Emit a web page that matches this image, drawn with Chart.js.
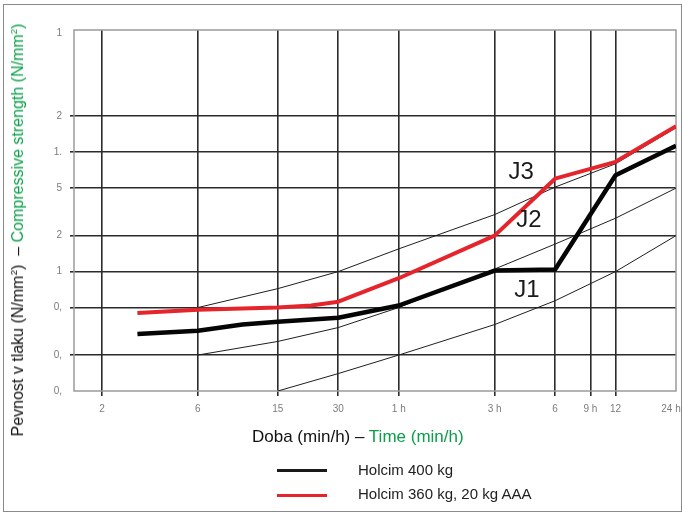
<!DOCTYPE html>
<html>
<head>
<meta charset="utf-8">
<script src="https://cdn.jsdelivr.net/npm/chart.js@4.4.1/dist/chart.umd.min.js"></script>
<style>
  body { margin: 0; background: #fff; font-family: "Liberation Sans", Arial, sans-serif; }
  #wrap { position: relative; width: 682px; height: 513px; overflow: hidden; }
  #chart { position: absolute; left: 0; top: 0; }
  #box { position: absolute; left: 3px; top: 4px; width: 677px; height: 506px; border: 1px solid #8a8a8a; }
  .green { color: #0a9f48; }
  sup { font-size: 0.62em; line-height: 0; }
  #ytitle {
    position: absolute; left: 18px; top: 230px; white-space: nowrap;
    font-size: 16px; color: #111;
    transform: translate(-50%, -50%) rotate(-90deg);
  }
  #xtitle { position: absolute; left: 252px; top: 427px; font-size: 17px; color: #111; white-space: nowrap; }
  .leg { position: absolute; left: 277px; width: 50px; height: 3px; }
  .legtext { position: absolute; left: 358px; font-size: 15px; color: #222; white-space: nowrap; }
</style>
</head>
<body>
<div id="wrap">
  <div id="box"></div>
  <canvas id="chart" width="682" height="513"></canvas>
  <div id="ytitle">Pevnost v tlaku (N/mm<sup>2</sup>)&nbsp; – <span class="green">Compressive strength (N/mm<sup>2</sup>)</span></div>
  <div id="xtitle">Doba (min/h) – <span class="green">Time (min/h)</span></div>
  <div class="leg" style="top:469px;background:#1a1a1a"></div>
  <div class="legtext" id="leg0" style="top:461px"></div>
  <div class="leg" style="top:494px;background:#e5242b"></div>
  <div class="legtext" id="leg1" style="top:485px"></div>
</div>
<script>
// time in minutes, strength in N/mm2
const seriesNames = ['Holcim 400 kg', 'Holcim 360 kg, 20 kg AAA'];

const holcim400Time = [3, 6, 10, 15, 30, 60, 180, 360, 720, 1440];
const holcim400Strength = [0.30, 0.32, 0.36, 0.38, 0.41, 0.52, 1.02, 1.04, 6.4, 11.3];

const holcimAAATime = [3, 6, 15, 22, 30, 60, 180, 360, 720, 1440];
const holcimAAAStrength = [0.45, 0.48, 0.50, 0.52, 0.56, 0.88, 2.0, 6.0, 8.3, 16.5];

// J1 / J2 / J3 zone boundaries
const upperTime = [6, 15, 30, 60, 180, 360, 720, 1440];
const upperStrength = [0.5, 0.72, 1.0, 1.55, 3.0, 5.1, 8.0, 16];
const middleTime = [6, 15, 30, 60, 180, 360, 720, 1440];
const middleStrength = [0.2, 0.26, 0.34, 0.5, 1.05, 1.7, 2.8, 5.0];
const lowerTime = [15, 30, 60, 180, 360, 720, 1440];
const lowerStrength = [0.1, 0.14, 0.2, 0.36, 0.57, 1.0, 2.0];

const zoneNames = ['J1', 'J2', 'J3'];
const zoneTime = [261, 267, 244];
const zoneStrength = [0.70, 2.7, 6.8];

const xTickValues = [2, 6, 15, 30, 60, 180, 360, 540, 720, 1440];
const xTickLabels = ['2', '6', '15', '30', '1 h', '3 h', '6', '9 h', '12', '24 h'];
const yTickValues = [0.1, 0.2, 0.5, 1, 2, 5, 10, 20, 100];
const yTickLabels = ['0,', '0,', '0,', '1', '2', '5', '1.', '2', '1'];

const toPoints = (xs, ys) => xs.map((x, i) => ({ x, y: ys[i] }));

document.getElementById('leg0').textContent = seriesNames[0];
document.getElementById('leg1').textContent = seriesNames[1];

const thin = data => ({
  data,
  borderColor: '#1e1e1e',
  borderWidth: 1,
  pointRadius: 0,
  tension: 0
});

const gridColor = edge => c => (c.tick && edge.includes(c.tick.value)) ? 'rgba(0,0,0,0)' : '#2b2b2b';

const framePlugin = {
  id: 'frame',
  beforeDatasetsDraw(chart) {
    const { ctx, chartArea: a } = chart;
    ctx.save();
    ctx.strokeStyle = '#9a9a9a';
    ctx.lineWidth = 1.5;
    ctx.strokeRect(a.left, a.top, a.right - a.left, a.bottom - a.top);
    ctx.restore();
  },
  afterDatasetsDraw(chart) {
    const { ctx } = chart;
    const xs = chart.scales.x, ys = chart.scales.y;
    ctx.save();
    ctx.fillStyle = '#1a1a1a';
    ctx.font = '24px "Liberation Sans", Arial, sans-serif';
    ctx.textAlign = 'center';
    ctx.textBaseline = 'middle';
    zoneNames.forEach((name, i) => {
      ctx.fillText(name, xs.getPixelForValue(zoneTime[i]), ys.getPixelForValue(zoneStrength[i]));
    });
    ctx.restore();
  }
};

new Chart(document.getElementById('chart'), {
  type: 'line',
  data: {
    datasets: [
      {
        label: seriesNames[0],
        data: toPoints(holcim400Time, holcim400Strength),
        borderColor: '#050505',
        borderWidth: 4.5,
        pointRadius: 0,
        tension: 0,
        borderJoinStyle: 'round'
      },
      {
        label: seriesNames[1],
        data: toPoints(holcimAAATime, holcimAAAStrength),
        borderColor: '#e5242b',
        borderWidth: 4,
        pointRadius: 0,
        tension: 0,
        borderJoinStyle: 'round'
      },
      thin(toPoints(upperTime, upperStrength)),
      thin(toPoints(middleTime, middleStrength)),
      thin(toPoints(lowerTime, lowerStrength))
    ]
  },
  options: {
    responsive: false,
    animation: false,
    layout: { padding: { top: 30, right: 6, left: 0, bottom: 0 } },
    plugins: {
      legend: { display: false },
      tooltip: { enabled: false }
    },
    scales: {
      x: {
        type: 'logarithmic',
        min: 1.45,
        max: 1440,
        afterBuildTicks(scale) {
          scale.ticks = xTickValues.map(v => ({ value: v }));
        },
        afterFit(scale) {
          scale.height = 122;
          scale.paddingLeft = 0;
          scale.paddingRight = 0;
        },
        border: { display: false },
        grid: {
          color: gridColor([1440]),
          lineWidth: 1.6,
          tickLength: 5
        },
        ticks: {
          autoSkip: false,
          maxRotation: 0,
          padding: 7,
          color: '#7c7c7c',
          font: { size: 10, family: '"Liberation Sans", Arial, sans-serif' },
          callback(value, index, ticks) {
            // last label sits on the right edge, pad it so it stays inside
            return index === ticks.length - 1 ? xTickLabels[index] + '\u2002\u2002' : xTickLabels[index];
          }
        }
      },
      y: {
        type: 'logarithmic',
        min: 0.1,
        max: 105.5,
        afterBuildTicks(scale) {
          scale.ticks = yTickValues.map(v => ({ value: v }));
        },
        afterFit(scale) {
          scale.width = 74;
          scale.paddingTop = 0;
          scale.paddingBottom = 0;
        },
        border: { display: false },
        grid: {
          color: gridColor([0.1, 100]),
          lineWidth: 1.6,
          tickLength: 4
        },
        ticks: {
          autoSkip: false,
          padding: 8,
          color: '#7c7c7c',
          font: { size: 10, family: '"Liberation Sans", Arial, sans-serif' },
          callback(value, index) {
            return yTickLabels[index];
          }
        }
      }
    }
  },
  plugins: [framePlugin]
});
</script>
</body>
</html>
